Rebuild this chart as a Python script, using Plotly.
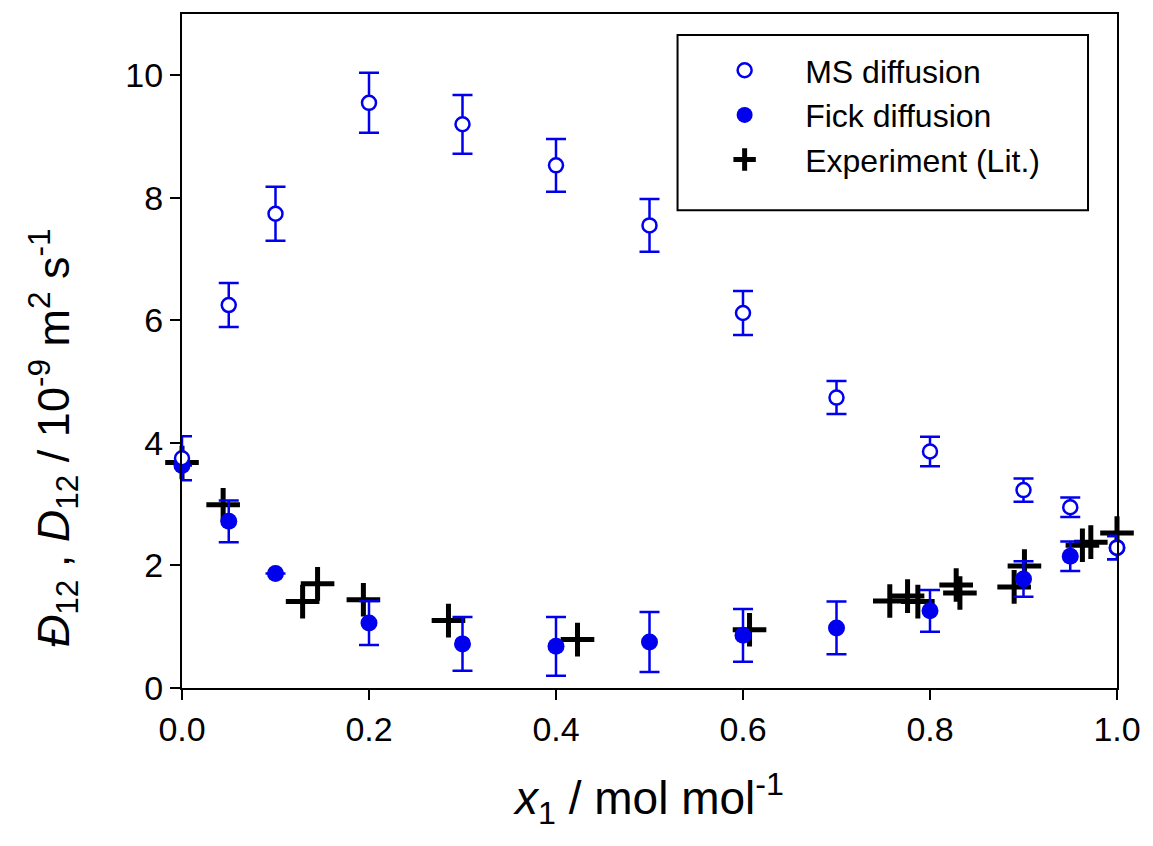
import plotly.graph_objects as go

# ---- data ----
x_ms = [0.0, 0.05, 0.1, 0.2, 0.3, 0.4, 0.5, 0.6, 0.7, 0.8, 0.9, 0.95, 1.0]
ms_diff = [3.75, 6.25, 7.74, 9.55, 9.20, 8.53, 7.55, 6.12, 4.74, 3.86, 3.23, 2.95, 2.29]
ms_err = [0.36, 0.36, 0.44, 0.49, 0.48, 0.43, 0.43, 0.36, 0.27, 0.24, 0.19, 0.16, 0.19]

x_fick = [0.0, 0.05, 0.1, 0.2, 0.3, 0.4, 0.5, 0.6, 0.7, 0.8, 0.9, 0.95, 1.0]
fick_diff = [3.63, 2.72, 1.87, 1.06, 0.72, 0.68, 0.75, 0.86, 0.98, 1.26, 1.78, 2.15, 2.29]
fick_err = [None, 0.34, None, 0.36, 0.44, 0.48, 0.49, 0.43, 0.43, 0.34, 0.29, 0.24, 0.19]

x_exp = [0.0, 0.044, 0.129, 0.145, 0.194, 0.285, 0.423, 0.607, 0.757, 0.776, 0.787,
         0.828, 0.832, 0.890, 0.901, 0.963, 0.972, 1.0]
exp_diff = [3.68, 2.99, 1.41, 1.70, 1.44, 1.10, 0.79, 0.95, 1.42, 1.50, 1.41,
            1.68, 1.55, 1.65, 1.99, 2.33, 2.38, 2.53]

x_ticks = [0.0, 0.2, 0.4, 0.6, 0.8, 1.0]
x_ticklabels = ["0.0", "0.2", "0.4", "0.6", "0.8", "1.0"]
y_ticks = [0, 2, 4, 6, 8, 10]

x_title = "<i>x</i><sub>1</sub> / mol mol<sup>-1</sup>"
y_title = ("<i>Đ</i><sub>12</sub> , <i>D</i><sub>12</sub> / 10<sup>-9</sup> "
           "m<sup>2</sup> s<sup>-1</sup>")

BLUE = "rgb(0,0,238)"
FONT = "Liberation Sans, Arial, sans-serif"
PAD = "\u00a0\u00a0\u00a0\u00a0"

fig = go.Figure()

fig.add_trace(go.Scatter(
    x=x_exp, y=exp_diff, mode="markers", name=PAD + "Experiment (Lit.)",
    legendrank=3,
    marker=dict(symbol="cross-thin", size=24, color="black", line=dict(width=5, color="black")),
    cliponaxis=False,
))
fig.add_trace(go.Scatter(
    x=x_fick, y=fick_diff, mode="markers", name=PAD + "Fick diffusion",
    legendrank=2,
    marker=dict(symbol="circle", size=17, color=BLUE, line=dict(width=0)),
    error_y=dict(type="data", array=fick_err, visible=True, color=BLUE,
                 thickness=2.5, width=10),
    cliponaxis=False,
))
fig.add_trace(go.Scatter(
    x=x_ms, y=ms_diff, mode="markers", name=PAD + "MS diffusion",
    legendrank=1,
    marker=dict(symbol="circle", size=14, color="white", line=dict(width=2.5, color=BLUE)),
    error_y=dict(type="data", array=ms_err, visible=True, color=BLUE,
                 thickness=2.5, width=10),
    cliponaxis=False,
))

# legend frame
fig.add_shape(type="rect", xref="paper", yref="paper",
              x0=0.530, x1=0.969, y0=0.709, y1=0.969,
              line=dict(color="black", width=2), fillcolor="rgba(0,0,0,0)", layer="below")

# y-axis title (placed as in the reference, below the axis centre)
fig.add_annotation(text=y_title, xref="paper", yref="paper",
                   x=-0.138, y=0.372, xanchor="center", yanchor="middle",
                   textangle=-90, showarrow=False,
                   font=dict(size=45, family=FONT, color="black"))

fig.update_layout(
    width=1153, height=846,
    margin=dict(l=182, r=26, t=12, b=158),
    paper_bgcolor="white", plot_bgcolor="white",
    font=dict(family=FONT, color="black", size=34),
    showlegend=True,
    legend=dict(x=0.575, y=0.957, xanchor="left", yanchor="top",
                bgcolor="rgba(0,0,0,0)", borderwidth=0,
                font=dict(size=32, family=FONT),
                itemwidth=40),
    xaxis=dict(
        range=[0, 1], tickvals=x_ticks, ticktext=x_ticklabels,
        showline=True, linecolor="black", linewidth=2, mirror=True,
        ticks="outside", ticklen=10, tickwidth=2, tickcolor="black",
        showgrid=False, zeroline=False,
        tickfont=dict(size=34),
        title=dict(text=x_title, font=dict(size=46), standoff=35),
    ),
    yaxis=dict(
        range=[0, 11], tickvals=y_ticks,
        showline=True, linecolor="black", linewidth=2, mirror=True,
        ticks="outside", ticklen=10, tickwidth=2, tickcolor="black",
        showgrid=False, zeroline=False,
        tickfont=dict(size=34),
    ),
)

fig.write_html("out.html")
